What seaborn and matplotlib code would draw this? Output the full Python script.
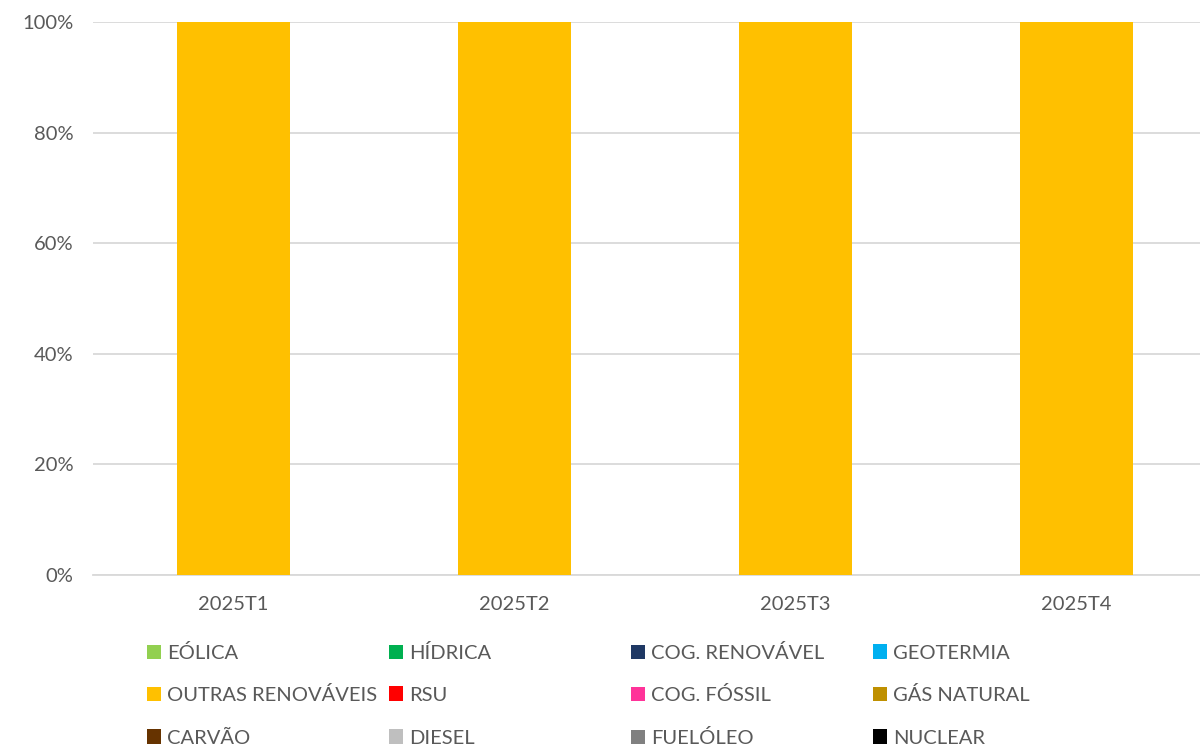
import numpy as np
import pandas as pd
import matplotlib
matplotlib.use("Agg")
import matplotlib.pyplot as plt
import seaborn as sns
from matplotlib.patches import Patch
from matplotlib.ticker import PercentFormatter

quarters = ["2025T1", "2025T2", "2025T3", "2025T4"]
series_names = ["EÓLICA", "HÍDRICA", "COG. RENOVÁVEL", "GEOTERMIA",
                "OUTRAS RENOVÁVEIS", "RSU", "COG. FÓSSIL", "GÁS NATURAL",
                "CARVÃO", "DIESEL", "FUELÓLEO", "NUCLEAR"]
series_colors = ["#92d050", "#00b050", "#1f3864", "#00b0f0",
                 "#ffc000", "#ff0000", "#ff3399", "#bf9000",
                 "#663300", "#bfbfbf", "#808080", "#000000"]
# share of each source per quarter (%)
eolica = [0, 0, 0, 0]
hidrica = [0, 0, 0, 0]
cog_renovavel = [0, 0, 0, 0]
geotermia = [0, 0, 0, 0]
outras_renovaveis = [100, 100, 100, 100]
rsu = [0, 0, 0, 0]
cog_fossil = [0, 0, 0, 0]
gas_natural = [0, 0, 0, 0]
carvao = [0, 0, 0, 0]
diesel = [0, 0, 0, 0]
fuel_oleo = [0, 0, 0, 0]
nuclear = [0, 0, 0, 0]

values = [eolica, hidrica, cog_renovavel, geotermia, outras_renovaveis, rsu,
          cog_fossil, gas_natural, carvao, diesel, fuel_oleo, nuclear]
df = pd.DataFrame(dict(zip(series_names, values)), index=quarters)
cum = df.cumsum(axis=1)

plt.rcParams["font.family"] = ["Lato", "DejaVu Sans"]
text_color = "#595959"
fs = 14.5

fig = plt.figure(figsize=(12, 7.47), dpi=100)
ax = fig.add_axes([0.0775, 0.2303, 1.014 - 0.0775, 0.7402])

# stacked bars: draw cumulative totals from the top series down
for name, color in reversed(list(zip(series_names, series_colors))):
    sns.barplot(x=quarters, y=cum[name].values, color=color, width=0.4,
                saturation=1, ax=ax, linewidth=0, zorder=3)

ax.set_ylim(0, 100)
ax.set_xlim(-0.5, 3.5)
ax.set_yticks([0, 20, 40, 60, 80, 100])
ax.yaxis.set_major_formatter(PercentFormatter(decimals=0))
ax.grid(axis="y", color="#d9d9d9", linewidth=1.3, zorder=0)
ax.set_axisbelow(True)
for s in ["top", "right", "left"]:
    ax.spines[s].set_visible(False)
ax.spines["bottom"].set_color("#d9d9d9")
ax.spines["bottom"].set_linewidth(1.3)
ax.tick_params(axis="y", length=0, pad=14, labelsize=fs, labelcolor=text_color)
ax.tick_params(axis="x", length=0, pad=15, labelsize=fs, labelcolor=text_color)
ax.set_xlabel("")
ax.set_ylabel("")

# legend: 4 equal-width columns x 3 rows, row-major order like the original
col_x = [0.1225, 0.3242, 0.5258, 0.7275]
row_y = [0.1258, 0.0696, 0.0120]
for i, (name, color) in enumerate(zip(series_names, series_colors)):
    r, c = divmod(i, 4)
    fig.legend([Patch(facecolor=color, edgecolor="none")], [name],
               loc="center left", bbox_to_anchor=(col_x[c], row_y[r]),
               frameon=False, fontsize=fs, labelcolor=text_color,
               handlelength=0.7, handleheight=0.7, handletextpad=0.3,
               borderpad=0, borderaxespad=0)

fig.savefig("out.png", dpi=100)
